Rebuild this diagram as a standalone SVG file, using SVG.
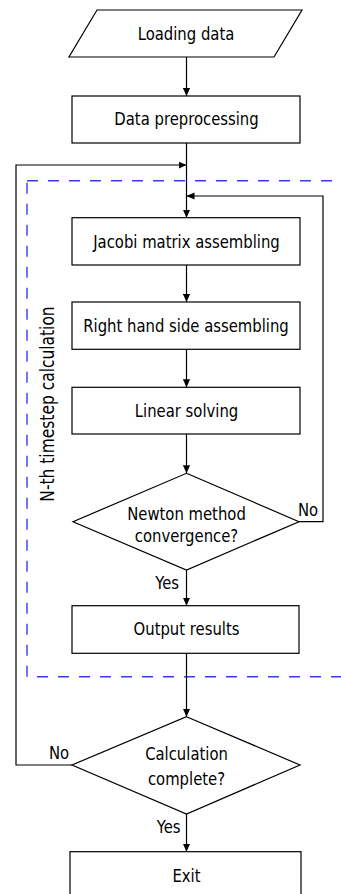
<svg xmlns="http://www.w3.org/2000/svg" width="341" height="894" viewBox="0 0 341 894">
  <style>
    .shape { fill: #ffffff; stroke: #000000; stroke-width: 1.2; }
    .wire { fill: none; stroke: #000000; stroke-width: 1.2; }
    .frame { fill: none; stroke: #3a3af0; stroke-width: 1.4; stroke-dasharray: 11 10; }
    text { font-family: "DejaVu Sans Condensed", "DejaVu Sans", sans-serif; font-stretch: condensed; font-size: 16.5px; fill: #000000; }
    .mid { text-anchor: middle; }
    .end { text-anchor: end; }
  </style>
  <defs>
    <marker id="arrow" viewBox="0 0 10 10" refX="10" refY="5" markerWidth="8" markerHeight="8" markerUnits="userSpaceOnUse" orient="auto">
      <path d="M0,0.5 L10,5 L0,9.5 Z" fill="#000000"/>
    </marker>
  </defs>

  <!-- dashed boundary of the per-timestep block (open to the right) -->
  <g id="timestep-frame">
    <rect class="frame" x="27" y="180.7" width="340" height="496"/>
    <text transform="translate(54,404) rotate(-90) scale(1,1.1)" class="mid" style="font-size:17.2px">N-th timestep calculation</text>
  </g>

  <g id="connectors">
    <path class="wire" d="M186.5,57 V96" marker-end="url(#arrow)"/>
    <path class="wire" d="M186.5,143 V217.7" marker-end="url(#arrow)"/>
    <path class="wire" d="M186.5,265 V302" marker-end="url(#arrow)"/>
    <path class="wire" d="M186.5,349.3 V387.3" marker-end="url(#arrow)"/>
    <path class="wire" d="M186.5,434 V473.3" marker-end="url(#arrow)"/>
    <path class="wire" d="M299,521.7 H323 V196 H186.5" marker-end="url(#arrow)"/>
    <path class="wire" d="M186.5,570 V605.7" marker-end="url(#arrow)"/>
    <path class="wire" d="M186.5,653.3 V716.7" marker-end="url(#arrow)"/>
    <path class="wire" d="M72,765 H16 V165 H186.5" marker-end="url(#arrow)"/>
    <path class="wire" d="M186.5,814 V851.7" marker-end="url(#arrow)"/>
    <text transform="translate(298,515.7) scale(1,1.1)">No</text>
    <text transform="translate(179,589.3) scale(1,1.1)" class="end">Yes</text>
    <text transform="translate(49,759.3) scale(1,1.1)">No</text>
    <text transform="translate(180.5,833.3) scale(1,1.1)" class="end">Yes</text>
  </g>

  <g id="loading-data">
    <polygon class="shape" points="97,10 302,10 274,57 69,57"/>
    <text transform="translate(186,40) scale(1,1.1)" class="mid">Loading data</text>
  </g>

  <g id="data-preprocessing">
    <rect class="shape" x="72" y="96" width="228" height="47"/>
    <text transform="translate(186.5,125.3) scale(1,1.1)" class="mid">Data preprocessing</text>
  </g>

  <g id="jacobi-matrix">
    <rect class="shape" x="72" y="217.7" width="228" height="47.3"/>
    <text transform="translate(186.5,247.5) scale(1,1.1)" class="mid">Jacobi matrix assembling</text>
  </g>

  <g id="rhs-assembling">
    <rect class="shape" x="72" y="302" width="228" height="47.3"/>
    <text transform="translate(186,331.7) scale(1,1.1)" class="mid">Right hand side assembling</text>
  </g>

  <g id="linear-solving">
    <rect class="shape" x="72" y="387.3" width="228" height="46.7"/>
    <text transform="translate(186.5,416.8) scale(1,1.1)" class="mid">Linear solving</text>
  </g>

  <g id="newton-check">
    <polygon class="shape" points="186.5,473.3 299,521.7 186.5,570 73,521.7"/>
    <text transform="translate(186.5,519.5) scale(1,1.1)" class="mid">Newton method</text>
    <text transform="translate(186.5,542.3) scale(1,1.1)" class="mid">convergence?</text>
  </g>

  <g id="output-results">
    <rect class="shape" x="72" y="605.7" width="227" height="47.6"/>
    <text transform="translate(186.5,635.3) scale(1,1.1)" class="mid">Output results</text>
  </g>

  <g id="calc-complete">
    <polygon class="shape" points="186.5,716.7 300,765 186.5,814 72,765"/>
    <text transform="translate(186.5,759.5) scale(1,1.1)" class="mid">Calculation</text>
    <text transform="translate(186.5,784.5) scale(1,1.1)" class="mid">complete?</text>
  </g>

  <g id="exit">
    <rect class="shape" x="70" y="851.7" width="231" height="50"/>
    <text transform="translate(186.5,882) scale(1,1.1)" class="mid">Exit</text>
  </g>
</svg>
